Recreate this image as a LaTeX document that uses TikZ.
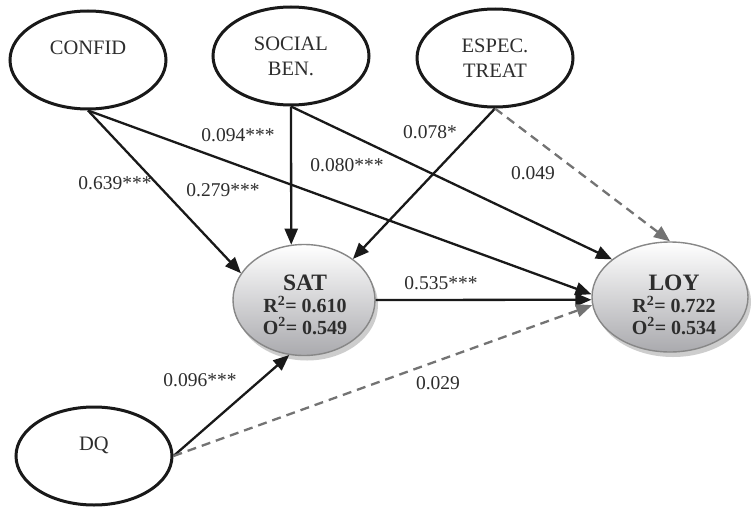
\documentclass[tikz,border=0pt]{standalone}
\usepackage{fontspec}
\setmainfont{Liberation Serif}
\usetikzlibrary{shapes.geometric,arrows.meta,shadows}
\definecolor{txt}{RGB}{45,45,45}
\definecolor{ln}{RGB}{25,25,25}
\definecolor{dsh}{RGB}{115,115,115}
\definecolor{bord}{RGB}{135,135,135}
\definecolor{shd}{RGB}{170,170,174}
\definecolor{shadowc}{RGB}{205,205,205}
\begin{document}
\begin{tikzpicture}[x=1pt,y=-1pt,
 latent/.style={ellipse,draw=ln,line width=3pt,minimum width=156pt,minimum height=98pt,inner sep=0pt,align=center,text=txt,font=\fontsize{20.5}{25}\selectfont},
 endo/.style={ellipse,draw=bord,line width=1.4pt,top color=white,bottom color=shd,inner sep=0pt,drop shadow={shadow xshift=3pt,shadow yshift=-5pt,fill=shadowc,opacity=1}},
 endotext/.style={inner sep=0pt,align=center,text=txt,font=\bfseries\fontsize{20}{21.8}\selectfont},
 sig/.style={draw=ln,line width=2.3pt,-{Triangle[length=16pt,width=13pt]}},
 nsig/.style={draw=dsh,line width=2.3pt,dash pattern=on 9pt off 6pt,-{Triangle[length=16pt,width=13pt,fill=dsh]}},
 lab/.style={text=txt,font=\fontsize{19.5}{22}\selectfont,inner sep=0pt}]
\useasboundingbox[fill=white] (0,0) rectangle (752,506);

\node[latent] (confid) at (88,60) {CONFID\\\mbox{}};
\node[latent] (social) at (291,56) {SOCIAL\\BEN.};
\node[latent] (espec) at (495,58) {ESPEC.\\TREAT};
\node[latent] (dq) at (94,456) {DQ\\\mbox{}};

\node[endo,minimum width=142pt,minimum height=111pt] (sat) at (304,300) {};
\node[endotext] (sattxt) at (305,305)
  {{\fontsize{23.5}{23}\selectfont SAT}\\R\textsuperscript{2}= 0.610\\O\textsuperscript{2}= 0.549};
\node[endo,minimum width=156pt,minimum height=110pt] (loy) at (670,297) {};
\node[endotext] (loytxt) at (674,305)
  {{\fontsize{23.5}{23}\selectfont LOY}\\R\textsuperscript{2}= 0.722\\O\textsuperscript{2}= 0.534};

\draw[sig] (confid.south) -- (sat.157);
\draw[sig] (confid.south) -- (loy.178);
\draw[sig] (social.south) -- (sat.103);
\draw[sig] (social.south) -- (loy.147);
\draw[sig] (espec.south) -- (sat.40);
\draw[nsig] (espec.south) -- (loy.north);
\draw[sig] (sat.east) -- (loy.182);
\draw[sig] (dq.east) -- (sat.255);
\draw[nsig] (dq.east) -- (loy.186);

\node[lab] (l1) at (115,183) {0.639***};
\node[lab] (l2) at (223,190) {0.279***};
\node[lab] (l3) at (238,135) {0.094***};
\node[lab] (l4) at (347,165) {0.080***};
\node[lab] (l5) at (430,132) {0.078*};
\node[lab] (l6) at (533,173) {0.049};
\node[lab] (l7) at (441,283) {0.535***};
\node[lab] (l8) at (200,380) {0.096***};
\node[lab] (l9) at (438,383) {0.029};
\end{tikzpicture}
\end{document}
